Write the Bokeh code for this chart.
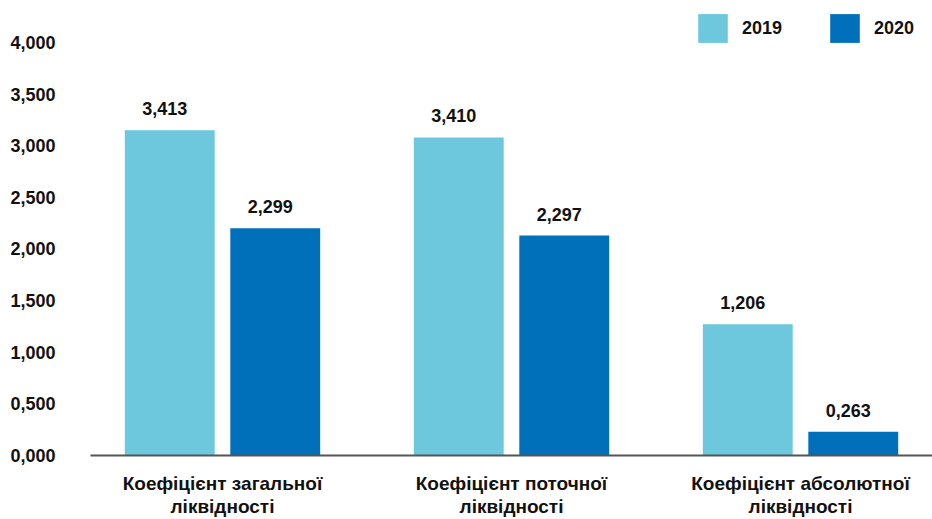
from bokeh.plotting import figure
from bokeh.models import (ColumnDataSource, FactorRange, Range1d, FixedTicker,
                          LabelSet)
from bokeh.core.properties import value
from bokeh.transform import dodge
from bokeh.embed import file_html
from bokeh.resources import INLINE

# ---- data ----
categories = ["Коефіцієнт загальної\nліквідності",
              "Коефіцієнт поточної\nліквідності",
              "Коефіцієнт абсолютної\nліквідності"]
series_names = ["2019", "2020"]
values_2019 = [3.15, 3.08, 1.27]
values_2020 = [2.20, 2.13, 0.23]
labels_2019 = ["3,413", "3,410", "1,206"]
labels_2020 = ["2,299", "2,297", "0,263"]
y_ticks = [0.0, 0.5, 1.0, 1.5, 2.0, 2.5, 3.0, 3.5, 4.0]
y_tick_labels = ["0,000", "0,500", "1,000", "1,500", "2,000",
                 "2,500", "3,000", "3,500", "4,000"]

# ---- styles ----
C2019 = "#6dc8dd"
C2020 = "#0070ba"
TXT = "#111111"
FONT = "Liberation Sans"

src = ColumnDataSource(dict(cat=categories, v2019=values_2019, v2020=values_2020,
                            l2019=labels_2019, l2020=labels_2020))

p = figure(width=932, height=519, output_backend="svg", toolbar_location=None,
           x_range=FactorRange(*categories, range_padding=-0.0433,
                               range_padding_units="absolute"),
           y_range=Range1d(0, 4.329),
           min_border_left=90, min_border_right=0, min_border_top=8,
           min_border_bottom=63)
p.outline_line_color = None
p.xgrid.visible = False
p.ygrid.visible = False
p.background_fill_color = "white"
p.border_fill_color = "white"

off = 0.1825
bw = 0.311
p.vbar(x=dodge("cat", -off, range=p.x_range), top="v2019", width=bw, source=src,
       fill_color=C2019, line_color=None, legend_label=series_names[0])
p.vbar(x=dodge("cat", off, range=p.x_range), top="v2020", width=bw, source=src,
       fill_color=C2020, line_color=None, legend_label=series_names[1])

for col, lab, d in (("v2019", "l2019", -off), ("v2020", "l2020", off)):
    p.add_layout(LabelSet(x=dodge("cat", d, range=p.x_range), y=col, text=lab,
                          source=src, text_align="center",
                          text_baseline="alphabetic", x_offset=-5, y_offset=15,
                          text_font=value(FONT), text_font_size="18px",
                          text_font_style="bold", text_color=TXT))

# y axis
ya = p.yaxis[0]
ya.ticker = FixedTicker(ticks=y_ticks)
ya.major_label_overrides = {t: s for t, s in zip(y_ticks, y_tick_labels)}
ya.axis_line_color = None
ya.major_tick_line_color = None
ya.minor_tick_line_color = None
ya.major_label_standoff = 29
ya.major_label_text_font = FONT
ya.major_label_text_font_size = "18px"
ya.major_label_text_font_style = "bold"
ya.major_label_text_color = TXT

# x axis
xa = p.xaxis[0]
xa.axis_line_color = "#555555"
xa.axis_line_width = 2
xa.major_tick_line_color = None
xa.minor_tick_line_color = None
xa.major_label_standoff = 11
xa.major_label_text_font = FONT
xa.major_label_text_font_size = "19px"
xa.major_label_text_font_style = "bold"
xa.major_label_text_color = TXT
xa.major_label_text_line_height = 1.1
xa.major_label_orientation = "horizontal"

# legend
lg = p.legend[0]
lg.location = (604, 409)
lg.orientation = "horizontal"
lg.glyph_width = 37
lg.glyph_height = 36
lg.label_standoff = 11
lg.spacing = 44
lg.padding = 0
lg.margin = 0
lg.border_line_color = None
lg.background_fill_alpha = 0
lg.label_text_font = FONT
lg.label_text_font_size = "18px"
lg.label_text_font_style = "bold"
lg.label_text_color = TXT

open("out.html", "w").write(file_html(p, INLINE))
